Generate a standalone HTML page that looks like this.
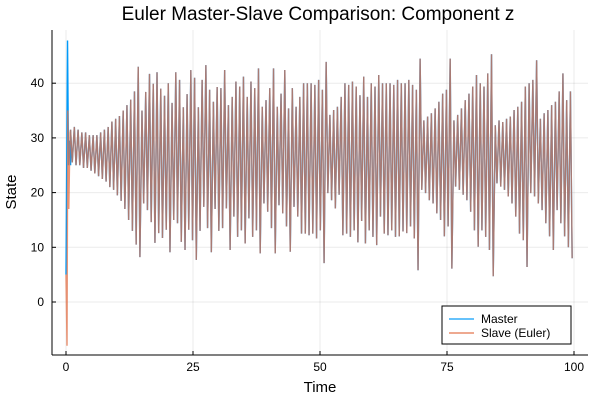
<!DOCTYPE html>
<html><head><meta charset="utf-8"><style>
body{margin:0;background:#fff;}
svg{display:block;font-family:"Liberation Sans",sans-serif;}
</style></head><body>
<svg id="chart" width="600" height="400">
<rect width="600" height="400" fill="#fff"/>
<text x="318" y="20" font-size="19" text-anchor="middle" fill="#000">Euler Master-Slave Comparison: Component z</text>
<g id="grid"></g>
<g id="series"></g>
<line x1="52" y1="355" x2="588" y2="355" stroke="#000" stroke-width="1"/>
<line x1="52" y1="30" x2="52" y2="355" stroke="#000" stroke-width="1"/>
<g id="ticks"></g>
<text x="320" y="392" font-size="15" text-anchor="middle">Time</text>
<text x="16" y="192" font-size="15" text-anchor="middle" transform="rotate(-90 16 192)">State</text>
<g>
<rect x="442" y="306" width="129" height="38" fill="#fff" stroke="#000" stroke-width="1"/>
<line x1="449" y1="319" x2="474" y2="319" stroke="#009af9" stroke-width="2" stroke-opacity="0.6"/>
<text x="481" y="323" font-size="12">Master</text>
<line x1="449" y1="333" x2="474" y2="333" stroke="#e26f46" stroke-width="2" stroke-opacity="0.6"/>
<text x="481" y="337" font-size="12">Slave (Euler)</text>
</g>
</svg>
<script>
const xTicks=[0,25,50,75,100];
const yTicks=[0,10,20,30,40];
const masterStartT=[0,0.3,0.5,0.7,0.9];
const masterStartV=[5,47.8,25,29.5,25];
const slaveStartT=[0,0.2,0.35,0.55,0.8];
const slaveStartV=[5,-8,35,17,31];
const peaks=[31.5,32,31.5,31,31,30.5,30.5,30.5,31,31.5,32,33,33.5,34,35,36,37,38.5,43,
35,38.4,41.7,39.9,42,39,37.7,40,36.4,42,40.6,35.6,38,42.4,41,35.6,40.6,43.3,38.8,36.6,39.3,
39.1,42.4,36,37.5,40.3,39.4,41.2,37.5,40.3,39.1,42.7,35.7,36.9,39.1,42.7,35.7,38.1,42.4,35.4,39.1,35.7,37.5,40,40,40,39.7,40.6,38.8,43.9,34.2,35.1,35.7,37.5,40,39.7,40.3,39.4,37.8,41.2,37.5,40,39.4,41.5,40,40,40,39.7,40.6,
40,40,40.6,39.7,38.8,44.5,33.2,33.9,34.5,35.4,36.6,38.1,38.8,44.5,33.2,34.2,35.4,36.9,38.1,39.4,41.5,40,39.4,41.8,45.3,32.3,33.2,32.9,33.5,33.9,35.1,35.7,36.6,39.4,40,40.6,44.2,33.5,34.5,35.1,36,36.6,38.5,41.8,36.9,38.5];
const troughs=[25.5,25,25,24.5,24.5,24,23.5,23,22.5,22,21,20.5,19.5,18.5,17,15,13,10.5,8.2,
18,16.8,14.6,10.8,12.6,11.7,13.2,9.1,15,14.4,11,9.5,13.2,11.3,7.7,13,17.4,13.5,9.1,17,13,
13.5,17.1,9.5,15.6,11.9,13.1,10.7,15.3,11.9,13.1,8.9,18,16.5,13.5,8.9,17.7,16.2,13.8,9.2,17.4,15.6,12.5,12.5,12.2,12.5,11.6,13.1,7.1,19.9,18.6,17.1,19.6,12.2,12.5,11.9,13.1,10.9,14.8,10.7,13.1,11.9,10.4,15.6,12.5,12.2,13.1,11.9,12,
12.9,12.6,13.8,11.6,5.8,20.5,19.9,18.6,18,16.2,15,12,13.8,6.1,21.1,20.5,19.6,18.6,16.5,13.1,10.1,13.1,11.9,9.5,4.7,21.7,21.1,20.5,19.3,18,15.6,12.5,11.3,6.4,19.9,19.3,18,16.8,14.4,12,9.5,16.8,14.4,12,10,8];
const tFirst=0.9, tLast=99.3;
const X=t=>66+t*5.08, Y=v=>302-v*5.47;
const NS="http://www.w3.org/2000/svg";
const grid=document.getElementById('grid'), ticks=document.getElementById('ticks'), series=document.getElementById('series');
xTicks.forEach(t=>{
 const g=document.createElementNS(NS,'line');
 g.setAttribute('x1',X(t));g.setAttribute('x2',X(t));g.setAttribute('y1',30);g.setAttribute('y2',355);
 g.setAttribute('stroke','#000');g.setAttribute('stroke-opacity','0.08');
 
 
 grid.appendChild(g);
 const k=document.createElementNS(NS,'line');
 k.setAttribute('x1',X(t));k.setAttribute('x2',X(t));k.setAttribute('y1',355);k.setAttribute('y2',351);k.setAttribute('stroke','#000');
 
 
 ticks.appendChild(k);
 const l=document.createElementNS(NS,'text');
 l.setAttribute('x',X(t));l.setAttribute('y',371);l.setAttribute('font-size','12');l.setAttribute('text-anchor','middle');l.textContent=t;
 
 
 ticks.appendChild(l);
});
yTicks.forEach(v=>{
 const g=document.createElementNS(NS,'line');
 g.setAttribute('x1',52);g.setAttribute('x2',588);g.setAttribute('y1',Y(v));g.setAttribute('y2',Y(v));
 g.setAttribute('stroke','#000');g.setAttribute('stroke-opacity','0.08');
 
 
 grid.appendChild(g);
 const k=document.createElementNS(NS,'line');
 k.setAttribute('x1',52);k.setAttribute('x2',56);k.setAttribute('y1',Y(v));k.setAttribute('y2',Y(v));k.setAttribute('stroke','#000');
 
 
 ticks.appendChild(k);
 const l=document.createElementNS(NS,'text');
 l.setAttribute('x',44);l.setAttribute('y',Y(v)+4);l.setAttribute('font-size','12');l.setAttribute('text-anchor','end');l.textContent=v;
 
 
 ticks.appendChild(l);
});
function buildPts(st,sv){
 const pts=st.map((t,i)=>[X(t),Y(sv[i])]);
 const n=Math.min(peaks.length,troughs.length);
 const dt=(tLast-tFirst)/(n-1);
 for(let i=0;i<n;i++){
  const t=tFirst+i*dt;
  pts.push([X(t),Y(peaks[i])]);
  pts.push([X(t+dt*0.45),Y(troughs[i])]);
 }
 return pts.map(p=>p[0].toFixed(2)+','+p[1].toFixed(2)).join(' ');
}
const m=document.createElementNS(NS,'polyline');
m.setAttribute('points',buildPts(masterStartT,masterStartV));
m.setAttribute('fill','none');m.setAttribute('stroke','#009af9');m.setAttribute('stroke-width','1.4');


series.appendChild(m);
const s=document.createElementNS(NS,'polyline');
s.setAttribute('points',buildPts(slaveStartT,slaveStartV));
s.setAttribute('fill','none');s.setAttribute('stroke','#e26f46');s.setAttribute('stroke-width','1.4');s.setAttribute('stroke-opacity','0.75');


series.appendChild(s);
</script>
</body></html>
